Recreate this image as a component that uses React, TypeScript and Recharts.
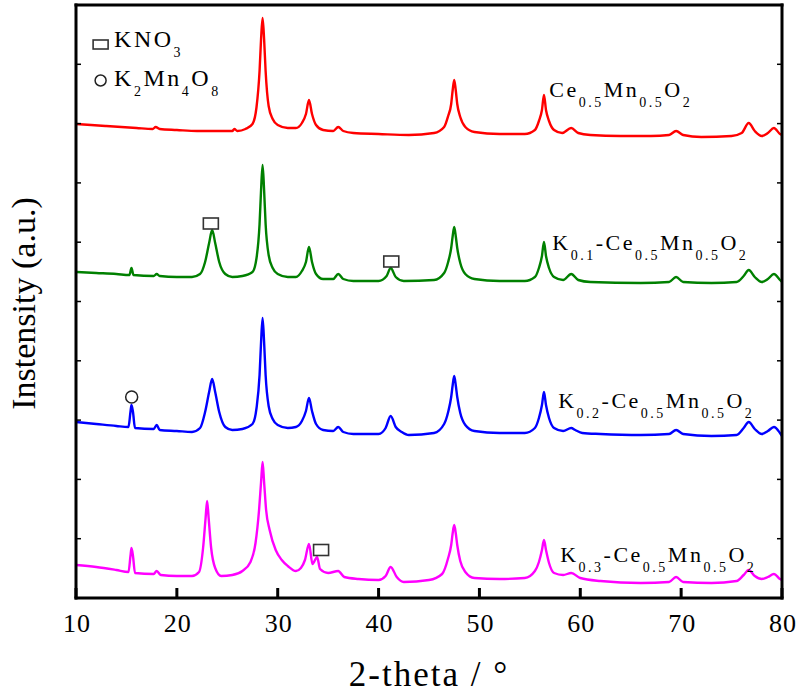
import { LineChart, Line, XAxis, YAxis, ReferenceDot } from "recharts";

// 2-theta (deg) vs. intensity (a.u., offset per pattern)
const ceMn: [number, number][] = [
  [10.0, 4740], [11.5, 4730], [13.0, 4720], [14.5, 4710], [16.0, 4700], [17.6, 4690], [17.9, 4710], [18.3, 4690],
  [20.0, 4680], [22.0, 4670], [24.0, 4670], [25.5, 4670], [25.7, 4690], [26.0, 4670], [26.8, 4690], [27.5, 4740],
  [27.9, 4910], [28.2, 5270], [28.35, 5590], [28.5, 5800], [28.65, 5590], [28.8, 5270], [29.1, 4920], [29.5, 4790],
  [30.0, 4730], [31.0, 4700], [31.8, 4700], [32.4, 4750], [32.8, 4840], [33.1, 4980], [33.4, 4840], [33.8, 4730],
  [34.5, 4680], [35.5, 4670], [36.0, 4710], [36.5, 4670], [37.5, 4650], [40.0, 4640], [43.0, 4630], [45.5, 4650],
  [46.5, 4710], [46.9, 4820], [47.2, 4940], [47.35, 5080], [47.5, 5180], [47.65, 5080], [47.8, 4940], [48.1, 4810],
  [48.6, 4710], [49.5, 4660], [52.0, 4640], [54.5, 4640], [55.5, 4680], [55.9, 4770], [56.2, 4880], [56.4, 5030],
  [56.6, 4880], [56.9, 4770], [57.4, 4680], [58.2, 4650], [59.1, 4700], [59.8, 4650], [61.0, 4630], [64.0, 4620],
  [67.0, 4620], [68.8, 4630], [69.5, 4670], [70.2, 4630], [72.0, 4610], [75.0, 4620], [76.0, 4650], [76.7, 4750],
  [77.3, 4670], [78.0, 4620], [78.6, 4650], [79.2, 4700], [79.8, 4640], [80.0, 4630],
];

const k01: [number, number][] = [
  [10.0, 3260], [12.0, 3250], [14.0, 3240], [15.3, 3230], [15.5, 3300], [15.7, 3230], [17.7, 3220], [18.0, 3240],
  [18.3, 3220], [20.0, 3210], [21.5, 3210], [22.3, 3240], [22.8, 3360], [23.2, 3550], [23.5, 3680], [23.8, 3550],
  [24.2, 3360], [24.8, 3240], [25.5, 3210], [26.5, 3220], [27.5, 3260], [27.9, 3400], [28.2, 3740], [28.35, 4080],
  [28.5, 4330], [28.65, 4080], [28.8, 3740], [29.1, 3430], [29.5, 3300], [30.0, 3240], [31.0, 3210], [31.8, 3210],
  [32.4, 3270], [32.8, 3360], [33.1, 3510], [33.4, 3360], [33.8, 3240], [34.5, 3190], [35.5, 3190], [36.0, 3240],
  [36.5, 3190], [37.5, 3170], [40.0, 3170], [40.8, 3220], [41.2, 3300], [41.7, 3210], [42.5, 3170], [45.5, 3180],
  [46.5, 3250], [46.9, 3360], [47.2, 3500], [47.35, 3620], [47.5, 3710], [47.65, 3620], [47.8, 3500], [48.1, 3350],
  [48.6, 3240], [49.5, 3190], [52.0, 3170], [54.5, 3170], [55.5, 3210], [55.9, 3300], [56.2, 3420], [56.4, 3560],
  [56.6, 3420], [56.9, 3300], [57.4, 3210], [58.3, 3180], [59.1, 3240], [59.8, 3180], [61.0, 3160], [66.0, 3150],
  [68.8, 3160], [69.5, 3210], [70.2, 3160], [73.0, 3150], [75.5, 3160], [76.2, 3220], [76.7, 3280], [77.3, 3210],
  [78.0, 3160], [78.6, 3190], [79.2, 3240], [79.8, 3180], [80.0, 3160],
];

const k02: [number, number][] = [
  [10.0, 1760], [12.0, 1740], [14.0, 1720], [15.2, 1710], [15.4, 1860], [15.5, 1930], [15.65, 1860], [15.85, 1700],
  [17.7, 1690], [18.0, 1730], [18.3, 1680], [20.0, 1670], [21.5, 1660], [22.3, 1700], [22.8, 1860], [23.2, 2060],
  [23.5, 2190], [23.8, 2060], [24.2, 1860], [24.8, 1710], [25.5, 1680], [26.5, 1690], [27.5, 1740], [27.9, 1900],
  [28.2, 2230], [28.35, 2560], [28.5, 2800], [28.65, 2560], [28.8, 2230], [29.1, 1920], [29.5, 1790], [30.0, 1730],
  [31.0, 1700], [31.8, 1710], [32.4, 1770], [32.8, 1870], [33.1, 2000], [33.4, 1870], [33.8, 1740], [34.5, 1680],
  [35.5, 1670], [36.0, 1710], [36.5, 1660], [37.5, 1640], [40.0, 1640], [40.7, 1700], [41.2, 1820], [41.7, 1710],
  [42.3, 1660], [43.0, 1630], [45.5, 1650], [46.5, 1740], [46.9, 1860], [47.2, 2010], [47.35, 2130], [47.5, 2220],
  [47.65, 2130], [47.8, 2010], [48.1, 1850], [48.6, 1730], [49.5, 1670], [52.0, 1650], [54.5, 1650], [55.5, 1700],
  [55.9, 1800], [56.2, 1930], [56.4, 2060], [56.6, 1930], [56.9, 1800], [57.4, 1700], [58.3, 1670], [59.1, 1700],
  [59.5, 1680], [60.2, 1650], [62.0, 1640], [66.0, 1630], [68.8, 1640], [69.5, 1680], [70.2, 1640], [73.0, 1620],
  [75.5, 1630], [76.2, 1700], [76.7, 1760], [77.3, 1690], [78.0, 1640], [78.6, 1670], [79.2, 1710], [79.8, 1650],
  [80.0, 1620],
];

const k03: [number, number][] = [
  [10.0, 330], [12.0, 310], [14.0, 280], [15.2, 260], [15.4, 420], [15.5, 500], [15.65, 420], [15.85, 250],
  [17.7, 240], [18.0, 270], [18.4, 230], [20.0, 220], [21.5, 220], [22.2, 260], [22.6, 500], [22.85, 800],
  [23.0, 970], [23.15, 800], [23.4, 500], [23.8, 300], [24.4, 220], [25.5, 230], [26.5, 270], [27.3, 360],
  [27.8, 550], [28.15, 880], [28.35, 1160], [28.5, 1360], [28.65, 1160], [28.85, 880], [29.2, 680], [29.8, 480],
  [30.4, 380], [31.0, 320], [31.8, 270], [32.3, 300], [32.7, 380], [33.1, 540], [33.45, 340], [33.6, 360],
  [33.9, 410], [34.2, 290], [35.0, 250], [36.0, 270], [36.6, 210], [38.0, 190], [40.0, 180], [40.7, 220],
  [41.2, 310], [41.8, 210], [42.5, 160], [45.0, 180], [46.3, 240], [46.9, 400], [47.2, 530], [47.35, 650],
  [47.5, 730], [47.65, 650], [47.8, 530], [48.1, 370], [48.6, 260], [49.5, 200], [52.0, 190], [54.5, 200],
  [55.5, 270], [55.9, 360], [56.2, 480], [56.4, 580], [56.6, 480], [56.9, 350], [57.4, 250], [58.3, 230],
  [59.1, 250], [60.0, 200], [62.0, 170], [66.0, 150], [68.8, 160], [69.5, 210], [70.2, 160], [73.0, 150],
  [75.5, 170], [76.2, 230], [76.7, 280], [77.3, 220], [78.0, 190], [78.6, 210], [79.2, 240], [79.8, 190],
  [80.0, 180],
];

const seriesColors = ["#FF0000", "#008000", "#0000FF", "#FF00FF"];
const seriesNames = ["Ce0.5Mn0.5O2", "K0.1-Ce0.5Mn0.5O2", "K0.2-Ce0.5Mn0.5O2", "K0.3-Ce0.5Mn0.5O2"];
// where each name label starts (2-theta, intensity of baseline)
const labelAt: [number, number][] = [[56.92, 5010], [57.22, 3480], [57.81, 1900], [58.01, 360]];

// phase markers: [2-theta, intensity]
const kno3Marks: [number, number][] = [[23.37, 3745], [41.26, 3365], [34.3, 480]];
const k2mn4o8Marks: [number, number][] = [[15.52, 2010]];
const legendNames = ["KNO3", "K2Mn4O8"];
const legendAt: [number, number][] = [[12.44, 5535], [12.44, 5175]];
const legendTextAt: [number, number][] = [[13.78, 5510], [13.78, 5120]];

const xTicks = [10, 20, 30, 40, 50, 60, 70, 80];
const yTicks = [0, 593, 1186, 1779, 2372, 2965, 3558, 4151, 4744, 5337, 5930];

const serif = { fontFamily: "'Liberation Serif', 'Times New Roman', Times, serif" };
const toRows = (pts: [number, number][]) => pts.map(([x, y]) => ({ x, y }));
const allSeries = [ceMn, k01, k02, k03].map(toRows);

// split "K0.1-Ce0.5" into main text and subscript runs
function Formula({ x, y, text, size, sub }: { x: number; y: number; text: string; size: number; sub: number }) {
  const runs = text.match(/[0-9.]+|[^0-9.]+/g) || [];
  let down = false;
  return (
    <text x={x} y={y} style={serif} fontSize={size} letterSpacing={2.5} fill="#000">
      {runs.map((r, i) => {
        const isSub = /^[0-9.]+$/.test(r);
        let dy = 0;
        if (isSub && !down) dy = 10;
        if (!isSub && down) dy = -10;
        down = isSub;
        return (
          <tspan key={i} dy={dy} fontSize={isSub ? sub : size}>
            {r}
          </tspan>
        );
      })}
    </text>
  );
}

const BottomTick = ({ x, y, payload }: any) => (
  <g>
    <line x1={x} x2={x} y1={y} y2={y - 10} stroke="#000" strokeWidth={3} />
    <text x={x + 1} y={y + 34} textAnchor="middle" style={serif} fontSize={26} letterSpacing={1} fill="#000">
      {payload.value}
    </text>
  </g>
);
const TopTick = ({ x, y }: any) => <line x1={x} x2={x} y1={y} y2={y + 5} stroke="#000" strokeWidth={1.5} />;
const LeftTick = ({ x, y }: any) => <line x1={x} x2={x + 5} y1={y} y2={y} stroke="#000" strokeWidth={1.5} />;
const RightTick = ({ x, y }: any) => <line x1={x} x2={x - 5} y1={y} y2={y} stroke="#000" strokeWidth={1.5} />;

const axisLine = { stroke: "#000", strokeWidth: 3, strokeLinecap: "square" as const };

export default function App() {
  return (
    <div style={{ position: "absolute", left: 0, top: 0, background: "#fff" }}>
      <LineChart width={798} height={699} margin={{ top: 4, right: 15, bottom: 100, left: 75 }}>
        <XAxis
          xAxisId="bottom"
          dataKey="x"
          type="number"
          domain={[10, 80]}
          ticks={xTicks}
          interval={0}
          allowDataOverflow
          height={1}
          tickSize={0}
          tickMargin={0}
          tickLine={false}
          tick={<BottomTick />}
          axisLine={axisLine}
          label={{
            content: ({ viewBox }: any) => (
              <text
                x={viewBox.x + viewBox.width / 2}
                y={viewBox.y + 88}
                textAnchor="middle"
                style={serif}
                fontSize={35}
                letterSpacing={2}
                fill="#000"
              >
                2-theta / °
              </text>
            ),
          }}
        />
        <XAxis
          xAxisId="top"
          orientation="top"
          type="number"
          domain={[10, 80]}
          ticks={xTicks}
          interval={0}
          allowDataOverflow
          height={1}
          tickSize={0}
          tickMargin={0}
          tickLine={false}
          tick={<TopTick />}
          axisLine={axisLine}
        />
        <YAxis
          yAxisId="left"
          type="number"
          domain={[0, 5930]}
          ticks={yTicks}
          interval={0}
          allowDataOverflow
          width={1}
          tickSize={0}
          tickMargin={0}
          tickLine={false}
          tick={<LeftTick />}
          axisLine={axisLine}
          label={{
            content: ({ viewBox }: any) => {
              const cx = viewBox.x - 52;
              const cy = viewBox.y + viewBox.height / 2 + 2;
              return (
                <text
                  x={cx}
                  y={cy}
                  transform={`rotate(-90 ${cx} ${cy})`}
                  textAnchor="middle"
                  dominantBaseline="central"
                  style={serif}
                  fontSize={34}
                  fill="#000"
                >
                  Instensity (a.u.)
                </text>
              );
            },
          }}
        />
        <YAxis
          yAxisId="right"
          orientation="right"
          type="number"
          domain={[0, 5930]}
          ticks={yTicks}
          interval={0}
          allowDataOverflow
          width={1}
          tickSize={0}
          tickMargin={0}
          tickLine={false}
          tick={<RightTick />}
          axisLine={axisLine}
        />

        {allSeries.map((rows, i) => (
          <Line
            key={seriesNames[i]}
            xAxisId="bottom"
            yAxisId="left"
            data={rows}
            dataKey="y"
            type="monotone"
            stroke={seriesColors[i]}
            strokeWidth={2.4}
            dot={false}
            isAnimationActive={false}
          />
        ))}

        {seriesNames.map((name, i) => (
          <ReferenceDot
            key={"lbl" + i}
            xAxisId="bottom"
            yAxisId="left"
            x={labelAt[i][0]}
            y={labelAt[i][1]}
            r={0}
            shape={(p: any) => <Formula x={p.cx} y={p.cy} text={name} size={22} sub={14} />}
          />
        ))}

        {kno3Marks.map(([x, y], i) => (
          <ReferenceDot
            key={"sq" + i}
            xAxisId="bottom"
            yAxisId="left"
            x={x}
            y={y}
            r={0}
            shape={(p: any) => (
              <rect x={p.cx - 7.5} y={p.cy - 5.5} width={15} height={11} fill="none" stroke="#333" strokeWidth={1.6} />
            )}
          />
        ))}
        {k2mn4o8Marks.map(([x, y], i) => (
          <ReferenceDot
            key={"ci" + i}
            xAxisId="bottom"
            yAxisId="left"
            x={x}
            y={y}
            r={0}
            shape={(p: any) => <circle cx={p.cx} cy={p.cy} r={6} fill="none" stroke="#222" strokeWidth={1.5} />}
          />
        ))}

        {/* legend */}
        <ReferenceDot
          xAxisId="bottom"
          yAxisId="left"
          x={legendAt[0][0]}
          y={legendAt[0][1]}
          r={0}
          shape={(p: any) => (
            <rect x={p.cx - 7.5} y={p.cy - 4.5} width={15} height={9} fill="none" stroke="#333" strokeWidth={1.6} />
          )}
        />
        <ReferenceDot
          xAxisId="bottom"
          yAxisId="left"
          x={legendAt[1][0]}
          y={legendAt[1][1]}
          r={0}
          shape={(p: any) => <circle cx={p.cx} cy={p.cy} r={5.5} fill="none" stroke="#222" strokeWidth={1.5} />}
        />
        {legendNames.map((name, i) => (
          <ReferenceDot
            key={"lg" + i}
            xAxisId="bottom"
            yAxisId="left"
            x={legendTextAt[i][0]}
            y={legendTextAt[i][1]}
            r={0}
            shape={(p: any) => <Formula x={p.cx} y={p.cy} text={name} size={24} sub={14} />}
          />
        ))}
      </LineChart>
    </div>
  );
}
